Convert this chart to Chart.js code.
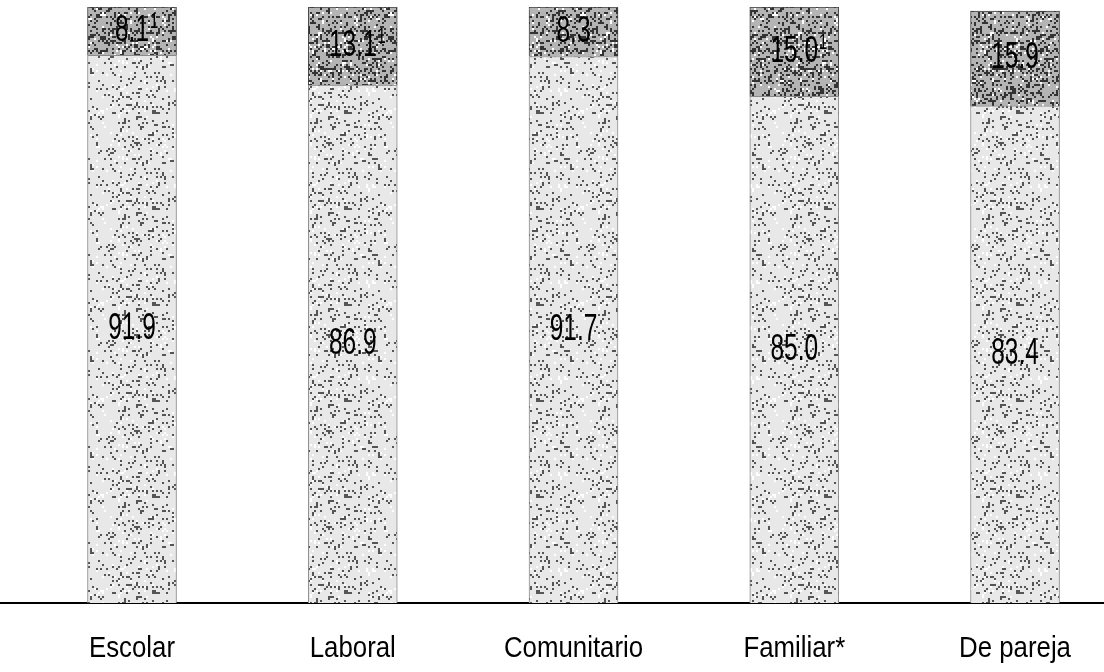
<!DOCTYPE html>
<html>
<head>
<meta charset="utf-8">
<script src="https://cdn.jsdelivr.net/npm/chart.js@4.4.1/dist/chart.umd.min.js"></script>
<style>
  html, body { margin: 0; padding: 0; background: #fff; }
  #wrap { width: 1104px; height: 672px; }
</style>
</head>
<body>
<div id="wrap"><canvas id="ambitos"></canvas></div>
<script>
// data
const categories = ['Escolar', 'Laboral', 'Comunitario', 'Familiar*', 'De pareja'];
const noValues = [91.9, 86.9, 91.7, 85.0, 83.4];
const yesValues = [8.1, 13.1, 8.3, 15.0, 15.9];
const yesNotes = ['1', '1', '', '1', ''];
const noNotes = ['', '', '', '', ''];
const notes = [noNotes, yesNotes];

const FONT = '"Liberation Sans Narrow", "Liberation Sans", Arial, sans-serif';

// speckled fill like the photocopy texture
function speckle(base, dots, density, seed) {
  const c = document.createElement('canvas');
  c.width = 96; c.height = 96;
  const g = c.getContext('2d');
  g.fillStyle = base;
  g.fillRect(0, 0, 96, 96);
  let s = seed;
  const rnd = () => { s = (s * 1103515245 + 12345) % 2147483648; return s / 2147483648; };
  for (let y = 0; y < 96; y += 2) {
    for (let x = 0; x < 96; x += 2) {
      const r = rnd();
      if (r < density) { g.fillStyle = dots; g.fillRect(x, y, 2, 2); }
      else if (r > 0.94) { g.fillStyle = '#fff'; g.fillRect(x, y, 2, 2); }
    }
  }
  return g.createPattern(c, 'repeat');
}

const ctx = document.getElementById('ambitos');
const lightFill = speckle('#e8e8e8', '#555', 0.11, 7);
const darkFill = speckle('#b4b4b4', '#333', 0.26, 19);

function narrowText(c, txt, x, y, size, sx) {
  c.save();
  c.translate(x, y);
  c.scale(sx, 1);
  c.font = size + 'px ' + FONT;
  const w = c.measureText(txt).width;
  c.fillText(txt, -w / 2, 0);
  c.restore();
  return w * sx;
}

const valueLabels = {
  id: 'valueLabels',
  afterDatasetsDraw(chart) {
    const c = chart.ctx;
    c.fillStyle = '#000';
    c.textBaseline = 'middle';
    c.textAlign = 'left';
    chart.data.datasets.forEach((ds, di) => {
      const meta = chart.getDatasetMeta(di);
      meta.data.forEach((bar, i) => {
        const txt = ds.data[i].y.toFixed(1);
        const cy = (bar.y + bar.base) / 2;
        const w = narrowText(c, txt, bar.x, cy, 36, 0.68);
        const note = notes[di][i];
        if (note) {
          narrowText(c, note, bar.x + w / 2 + 5, cy - 9, 22, 0.7);
        }
      });
    });
    // category names under the axis, condensed like the original
    const xs = chart.scales.x;
    const base = chart.scales.y.getPixelForValue(0);
    categories.forEach((name, i) => {
      narrowText(c, name, xs.getPixelForValue(i), base + 46, 30, 0.86);
    });
  }
};

new Chart(ctx, {
  type: 'bar',
  data: {
    datasets: [{
      label: 'No',
      data: noValues.map((v, i) => ({ x: i, y: v })),
      backgroundColor: lightFill,
      borderColor: '#8a8a8a',
      borderWidth: 1,
      borderSkipped: 'bottom'
    }, {
      label: 'Sí',
      data: yesValues.map((v, i) => ({ x: i, y: v })),
      backgroundColor: darkFill,
      borderColor: '#444',
      borderWidth: 1,
      borderSkipped: 'bottom'
    }]
  },
  options: {
    responsive: true,
    maintainAspectRatio: false,
    animation: false,
    barThickness: 89,
    layout: { padding: { top: 7, bottom: 0, left: 0, right: 0 } },
    plugins: {
      legend: { display: false },
      tooltip: { enabled: false }
    },
    scales: {
      x: {
        type: 'linear',
        stacked: true,
        offset: false,
        min: -0.598,
        max: 4.403,
        afterBuildTicks(scale) {
          scale.ticks = categories.map((c, i) => ({ value: i }));
        },
        afterFit(scale) { scale.height = 69; },
        ticks: { display: false },
        grid: { display: false, drawTicks: false },
        border: { display: true, color: '#000', width: 2 }
      },
      y: {
        display: false,
        stacked: true,
        min: 0,
        max: 100
      }
    }
  },
  plugins: [valueLabels]
});
</script>
</body>
</html>
